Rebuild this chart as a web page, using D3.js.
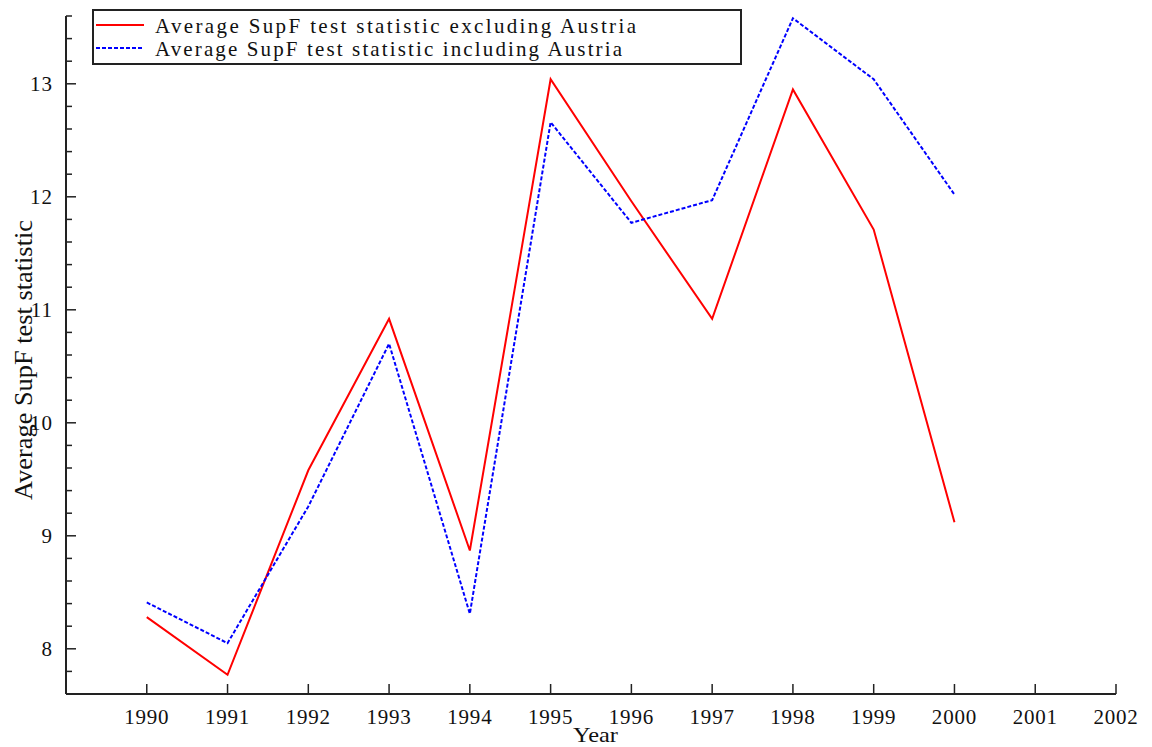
<!DOCTYPE html>
<html>
<head>
<meta charset="utf-8">
<script src="https://cdn.jsdelivr.net/npm/d3@7"></script>
<style>
  body { margin: 0; background: #fff; }
  text { font-family: "Liberation Serif", "DejaVu Serif", serif; fill: #111; }
</style>
</head>
<body>
<svg id="chart" width="1152" height="747"></svg>
<script>
"use strict";
// data
var years = [1990, 1991, 1992, 1993, 1994, 1995, 1996, 1997, 1998, 1999, 2000];
var excludingAustria = [8.28, 7.77, 9.58, 10.92, 8.87, 13.04, 11.96, 10.92, 12.95, 11.71, 9.12];
var includingAustria = [8.41, 8.05, 9.26, 10.70, 8.31, 12.66, 11.77, 11.97, 13.58, 13.04, 12.02];
var xTicks = [1990, 1991, 1992, 1993, 1994, 1995, 1996, 1997, 1998, 1999, 2000, 2001, 2002];
var yTicks = [8, 9, 10, 11, 12, 13];
var seriesNames = ["Average SupF test statistic excluding Austria", "Average SupF test statistic including Austria"];

var plotLeft = 66, plotRight = 1116, plotTop = 16, plotBottom = 694;
var svg = d3.select("#chart");

var x = d3.scaleLinear().domain([1989, 2002]).range([plotLeft, plotRight]);
var y = d3.scaleLinear().domain([7.6, 13.6]).range([plotBottom, plotTop]);

// minor y ticks every 0.2
var yMinor = d3.range(7.6, 13.61, 0.2).filter(function(v) {
  return Math.abs(v - Math.round(v)) > 0.01;
});

var yAxis = svg.append("g").attr("transform", "translate(" + plotLeft + ",0)");
yAxis.selectAll(".minor").data(yMinor).enter().append("line")
  .attr("x1", 0).attr("x2", 6)
  .attr("y1", function(d) { return y(d); }).attr("y2", function(d) { return y(d); })
  .attr("stroke", "#222").attr("stroke-width", 1.5);
yAxis.selectAll(".major").data(yTicks).enter().append("line")
  .attr("x1", 0).attr("x2", 10)
  .attr("y1", function(d) { return y(d); }).attr("y2", function(d) { return y(d); })
  .attr("stroke", "#222").attr("stroke-width", 1.5);
yAxis.selectAll("text").data(yTicks).enter().append("text")
  .attr("x", -13).attr("y", function(d) { return y(d) + 7; })
  .attr("text-anchor", "end").attr("font-size", 21).attr("letter-spacing", 1)
  .text(function(d) { return d; });
yAxis.append("line").attr("x1", 0).attr("x2", 0).attr("y1", plotTop).attr("y2", plotBottom)
  .attr("stroke", "#222").attr("stroke-width", 2);

var xAxis = svg.append("g").attr("transform", "translate(0," + plotBottom + ")");
xAxis.selectAll("line.tk").data(xTicks).enter().append("line")
  .attr("x1", function(d) { return x(d); }).attr("x2", function(d) { return x(d); })
  .attr("y1", 0).attr("y2", -10)
  .attr("stroke", "#222").attr("stroke-width", 1.5);
xAxis.selectAll("text").data(xTicks).enter().append("text")
  .attr("x", function(d) { return x(d); }).attr("y", 30)
  .attr("text-anchor", "middle").attr("font-size", 21).attr("letter-spacing", 0.8)
  .text(function(d) { return d; });
xAxis.append("line").attr("x1", plotLeft).attr("x2", plotRight).attr("y1", 0).attr("y2", 0)
  .attr("stroke", "#222").attr("stroke-width", 2);

// titles
svg.append("text").attr("x", 573).attr("y", 742)
  .attr("font-size", 22).attr("textLength", 45).attr("lengthAdjust", "spacingAndGlyphs")
  .text("Year");
svg.append("text").attr("transform", "translate(32,500) rotate(-90)")
  .attr("font-size", 26).attr("textLength", 280).attr("lengthAdjust", "spacingAndGlyphs")
  .text("Average SupF test statistic");

// lines
var line = d3.line()
  .x(function(d, i) { return x(years[i]); })
  .y(function(d) { return y(d); });

svg.append("path").datum(excludingAustria).attr("d", line)
  .attr("fill", "none").attr("stroke", "#ff0000").attr("stroke-width", 2);
svg.append("path").datum(includingAustria).attr("d", line)
  .attr("fill", "none").attr("stroke", "#0000ff").attr("stroke-width", 2)
  .attr("stroke-dasharray", "4,2");

// legend
var legend = svg.append("g");
legend.append("rect").attr("x", 93).attr("y", 10).attr("width", 648).attr("height", 54)
  .attr("fill", "#fff").attr("stroke", "#222").attr("stroke-width", 2);
var legendStyles = [{ c: "#ff0000", dash: null, w: 481 }, { c: "#0000ff", dash: "4,2", w: 467 }];
legendStyles.forEach(function(s, i) {
  var ly = 25 + i * 23;
  legend.append("line").attr("x1", 96).attr("x2", 144).attr("y1", ly).attr("y2", ly)
    .attr("stroke", s.c).attr("stroke-width", 2).attr("stroke-dasharray", s.dash);
  legend.append("text").attr("x", 155).attr("y", ly + 8).attr("font-size", 21)
    .attr("textLength", s.w).attr("lengthAdjust", "spacing")
    .text(seriesNames[i]);
});
</script>
</body>
</html>
